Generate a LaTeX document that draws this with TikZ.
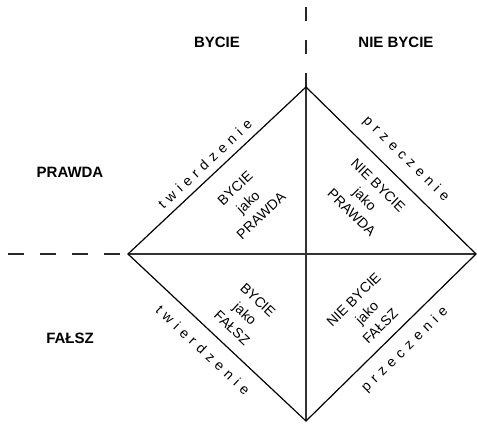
\documentclass[tikz,border=0pt]{standalone}
\usepackage{fontspec}
\setmainfont{Liberation Sans}
\newcommand\lgap{\kern5.2pt}
\newcommand\twi{t\lgap w\lgap i\lgap e\lgap r\lgap d\lgap z\lgap e\lgap n\lgap i\lgap e}
\newcommand\prz{p\lgap r\lgap z\lgap e\lgap c\lgap z\lgap e\lgap n\lgap i\lgap e}
\begin{document}
\begin{tikzpicture}[x=1pt,y=-1pt,
  head/.style={font=\fontsize{15}{18}\selectfont\bfseries, inner sep=0pt},
  inner/.style={font=\fontsize{14}{19}\selectfont, align=center, inner sep=0pt},
  edgelab/.style={font=\fontsize{14}{17}\selectfont, inner sep=0pt},
  side/.style={line width=1.2pt, line join=miter},
  axis/.style={line width=1.5pt, black!80},
  dashline/.style={line width=1.4pt, black!85}]
\useasboundingbox (0,0) rectangle (477,424);
\coordinate (T) at (306,87);
\coordinate (L) at (128,254);
\coordinate (B) at (306,421);
\coordinate (R) at (476,254);
\coordinate (VT) at (306,7);
\coordinate (HL) at (8,254);
% dashed lines
\draw[dashline, dash pattern=on 14pt off 19pt] (VT) -- (T);
\draw[dashline, dash pattern=on 16pt off 16pt] (HL) -- (L);
% axes inside diamond
\draw[axis] (L) -- (R);
\draw[axis] (T) -- (B);
% diamond
\draw[side] (T) -- (R) -- (B) -- (L) -- cycle;
% headings
\node[head] (hb) at (217,42) {BYCIE};
\node[head] (hnb) at (396,42) {NIE BYCIE};
\node[head] (hp) at (70,172) {PRAWDA};
\node[head] (hf) at (70,338) {FAŁSZ};
% edge labels
\node[edgelab, rotate=43.2] (e1) at (205,164) {\twi};
\node[edgelab, rotate=-44.5] (e2) at (406,159) {\prz};
\node[edgelab, rotate=-43.2] (e3) at (203,350) {\twi};
\node[edgelab, rotate=44.5] (e4) at (405,350) {\prz};
% inner labels
\node[inner, rotate=43.2] (q1) at (248,202) {BYCIE\\jako\\PRAWDA};
\node[inner, rotate=-44.5] (q2) at (365,199) {NIE BYCIE\\jako\\PRAWDA};
\node[inner, rotate=-43.2] (q3) at (245,314) {BYCIE\\jako\\FAŁSZ};
\node[inner, rotate=44.5] (q4) at (367,313) {NIE BYCIE\\jako\\FAŁSZ};
\end{tikzpicture}
\end{document}
